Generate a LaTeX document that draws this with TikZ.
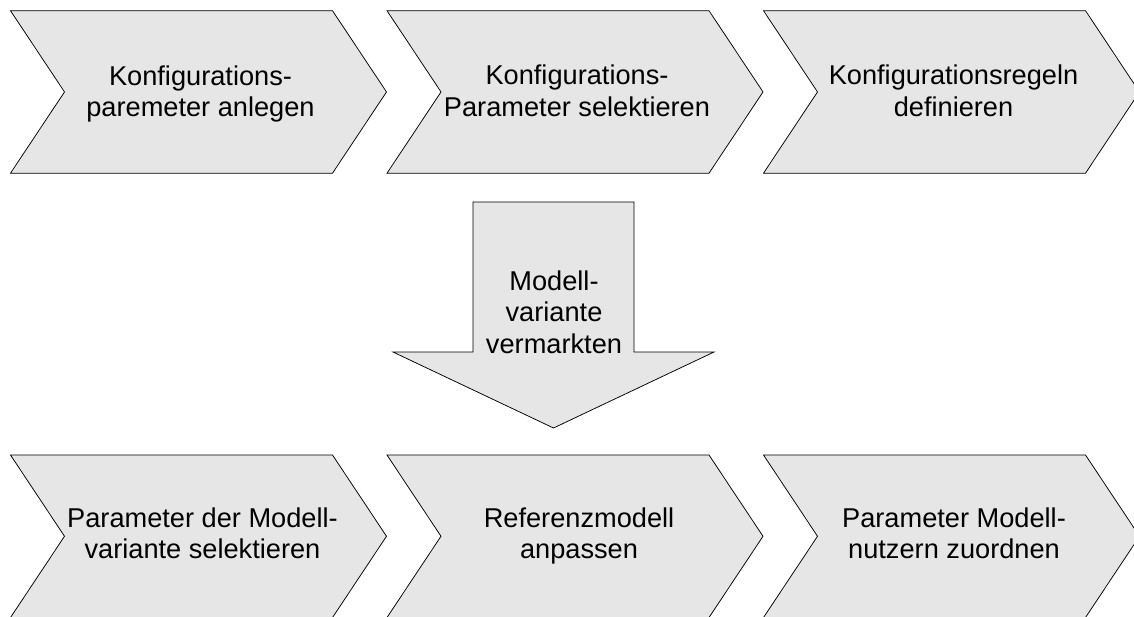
\documentclass[tikz,border=0pt]{standalone}
\usepackage{fontspec}
\setmainfont{Liberation Sans}
\definecolor{boxgray}{RGB}{230,230,230}
\begin{document}
\begin{tikzpicture}[x=1pt, y=-1pt,
    chevron/.style={draw=black, fill=boxgray, line width=0.75pt, line join=miter},
    steptext/.style={align=center, inner sep=0pt, font=\fontsize{27.2}{31.3}\selectfont}]
    \clip (0,0) rectangle (1134,616);
    % obere Reihe
    \draw[chevron] (10.5,10.7) -- ++(322,0) -- ++(54,81.25) -- ++(-54,81.25) -- ++(-322,0) -- ++(54,-81.25) -- cycle;
    \draw[chevron] (387,10.7) -- ++(322,0) -- ++(54,81.25) -- ++(-54,81.25) -- ++(-322,0) -- ++(54,-81.25) -- cycle;
    \draw[chevron] (763.5,10.7) -- ++(322,0) -- ++(54,81.25) -- ++(-54,81.25) -- ++(-322,0) -- ++(54,-81.25) -- cycle;
    \node[steptext] (anlegen) at (200.5,93.7) {Konfigurations-\\paremeter anlegen};
    \node[steptext] (selektieren) at (577,90.9) {Konfigurations-\\Parameter selektieren};
    \node[steptext] (regeln) at (953.5,90.9) {Konfigurationsregeln\\definieren};
    % Pfeil nach unten
    \draw[chevron] (473,202) -- (634,202) -- (634,352) -- (714,352) -- (553.5,428) -- (393,352) -- (473,352) -- cycle;
    \node[steptext] (vermarkten) at (554,312) {Modell-\\variante\\vermarkten};
    % untere Reihe
    \draw[chevron] (10.5,455) -- ++(322,0) -- ++(54,81.25) -- ++(-54,81.25) -- ++(-322,0) -- ++(54,-81.25) -- cycle;
    \draw[chevron] (387,455) -- ++(322,0) -- ++(54,81.25) -- ++(-54,81.25) -- ++(-322,0) -- ++(54,-81.25) -- cycle;
    \draw[chevron] (763.5,455) -- ++(322,0) -- ++(54,81.25) -- ++(-54,81.25) -- ++(-322,0) -- ++(54,-81.25) -- cycle;
    \node[steptext] (variante) at (202.5,533.2) {Parameter der Modell-\\variante selektieren};
    \node[steptext] (anpassen) at (579,536.1) {Referenzmodell\\anpassen};
    \node[steptext] (zuordnen) at (954,533.2) {Parameter Modell-\\nutzern zuordnen};
\end{tikzpicture}
\end{document}
